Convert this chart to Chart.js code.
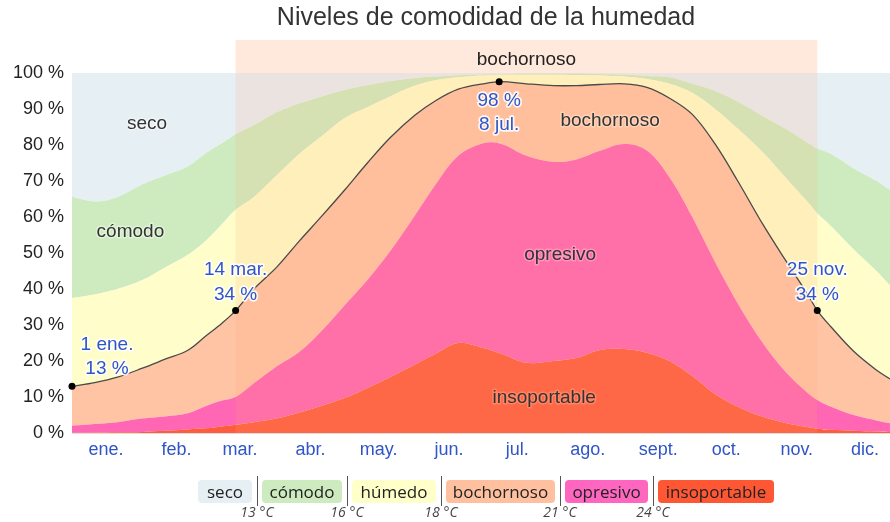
<!DOCTYPE html>
<html><head><meta charset="utf-8">
<script src="https://cdn.jsdelivr.net/npm/chart.js@4/dist/chart.umd.min.js"></script>
<style>
html,body{margin:0;padding:0;background:#fff;}
#wrap{position:relative;width:890px;height:522px;overflow:hidden;}
#c{position:absolute;left:0;top:0;}
#legend{position:absolute;left:198px;top:476px;display:flex;align-items:center;font-family:"Open Sans",sans-serif;}
.chip{height:23px;line-height:23px;border-radius:4px;font-size:17px;color:#222;padding:0;text-align:center;white-space:nowrap;}
.sep{width:1px;height:30px;background:#555;margin:0 4.5px;}
.tmp{position:absolute;top:502px;font-family:"Open Sans",sans-serif;font-size:14px;font-style:italic;color:#444;transform:translateX(-50%);white-space:nowrap;}
</style></head>
<body><div id="wrap"><canvas id="c" width="890" height="522"></canvas><div id="legend"></div></div>
<script>
// ---- data (day of year, 0 = 1 ene.) ----
const days = [0,10,20,31,41,51,59,66,72,80,90,100,110,120,130,140,151,160,170,181,189,200,212,222,232,243,253,263,273,283,293,304,314,324,328,334,344,354,360];
// cumulative upper boundaries (%)
const insoportableTop = [0.1,0.1,0.2,0.3,0.6,1.0,1.3,1.8,2.3,3.0,4.0,5.7,7.6,9.7,12.5,15.5,19,22,25,23.6,22,19.5,20,20.8,23,23.3,22.3,20,15.8,10.8,7.3,4.5,2.8,1.6,1.2,0.9,0.6,0.4,0.3];
const opresivoTop = [2,2.5,3,4,4.6,5.5,7.5,9,10,13.8,18.5,22.5,28.5,35.5,42.5,50.5,60.5,69,77,80.5,80.3,77,75.3,76,78.3,80.3,78.5,71,60,47.5,36,25,17,11,9.2,7.3,5,3.5,2.7];
const bochornosoTop = [13,14,15.5,18,20.5,23,27,30.5,34,40,46,53.3,60.3,67.5,75,82,88.3,92.3,95.5,97,97.6,97,96.5,96.5,96.8,97,96,93,88.5,80.3,70,58,48,38.3,34,29.5,22.7,17.5,15];
const humedoTop = [37.5,38.5,40,42.5,46,49.5,53.5,58,62,65.5,71.5,77.5,82.5,87.5,90.5,93.5,96.5,98,98.8,99.3,99.5,99.5,99.5,99.4,99.3,99,98.3,97,94.5,90,84.5,78,71,64,61,57.5,51,45,41];
const comodoTop = [65.6,64.3,65.5,69,71.5,74,77.8,80.5,83,85.5,89,91.5,93.5,95.3,96.6,97.7,98.6,99,99.4,99.6,99.7,99.8,99.8,99.8,99.7,99.5,99.2,98.8,97,95,92,88,84.5,80.5,79,77.5,73.5,70,67.5];
const secoTop = days.map(() => 100);
// highlighted points
const markDays = [0,72,188,328];
const markValues = [13,34,97.6,34];
const markText = [["1 ene.","13 %"],["14 mar.","34 %"],["98 %","8 jul."],["25 nov.","34 %"]];
// muggy period band
const bandRange = [72,328];
// axes
const monthStarts = [0,31,59,90,120,151,181,212,243,273,304,334];
const monthLabels = ['ene.','feb.','mar.','abr.','may.','jun.','jul.','ago.','sept.','oct.','nov.','dic.'];
const yTicks = [0,10,20,30,40,50,60,70,80,90,100];
const xMax = 360;
// categories & legend
const categories = ['seco','cómodo','húmedo','bochornoso','opresivo','insoportable'];
const thresholds = ['13 °C','16 °C','18 °C','21 °C','24 °C'];
const colors = {seco:'#e6eff3', 'cómodo':'#cdebbf', 'húmedo':'#fffdc9', bochornoso:'#ffc4a4', opresivo:'#ff66b3', insoportable:'#ff5c3d'};
const chipColors = {seco:'#e6eff3', 'cómodo':'#cdebbf', 'húmedo':'#ffffc9', bochornoso:'#ffc09f', opresivo:'#ff66bf', insoportable:'#ff5733'};
const chipWidths = [54,80,84,109,83,116];

const pts = arr => days.map((d,i) => ({x:d, y:arr[i]}));
const areas = [
  ['insoportable', insoportableTop, 'origin'],
  ['opresivo', opresivoTop, 0],
  ['bochornoso', bochornosoTop, 1],
  ['húmedo', humedoTop, 2],
  ['cómodo', comodoTop, 3],
  ['seco', secoTop, 4]
];
const datasets = areas.map(([name, arr, fill]) => ({
  label: name, data: pts(arr), fill: fill, backgroundColor: colors[name],
  borderWidth: 0, pointRadius: 0, tension: 0.35, order: 0, clip: 0
}));
datasets.push({label:'line', data: pts(bochornosoTop), fill:false, borderColor:'#4a4a4a', borderWidth:1.3, pointRadius:0, tension:0.35, order:-1});
datasets.push({label:'marks', data: markDays.map((d,i)=>({x:d,y:markValues[i]})), showLine:false, pointRadius:3.5, pointBackgroundColor:'#000', pointBorderWidth:0, order:-2, clip:false});

const FONT = '"Liberation Sans", Arial, sans-serif';
function halo(ctx, text, x, y, fill, stroke, w){
  ctx.lineJoin='round';
  ctx.strokeStyle=stroke; ctx.lineWidth=w; ctx.strokeText(text,x,y);
  ctx.fillStyle=fill; ctx.fillText(text,x,y);
}
const deco = {
  id:'deco',
  afterDatasetDraw(chart, args){
    if (args.index !== 0) return;
    const {ctx, chartArea:a, scales:{x}} = chart;
    const x0 = x.getPixelForValue(bandRange[0]), x1 = x.getPixelForValue(bandRange[1]);
    ctx.save();
    ctx.fillStyle = '#ffe8dc';
    ctx.fillRect(x0, 40, x1-x0, a.top-40);
    ctx.fillStyle = 'rgba(255,170,120,0.16)';
    ctx.fillRect(x0, a.top, x1-x0, a.bottom-a.top);
    ctx.restore();
  },
  afterDraw(chart){
    const {ctx, chartArea:a, scales:{x,y}} = chart;
    ctx.save();
    ctx.textAlign='center'; ctx.textBaseline='middle';
    // title
    ctx.font = '25px '+FONT; ctx.fillStyle='#333';
    ctx.fillText('Niveles de comodidad de la humedad', 486, 18);
    // band label
    const x0 = x.getPixelForValue(bandRange[0]), x1 = x.getPixelForValue(bandRange[1]);
    ctx.font = '19px '+FONT; ctx.fillStyle='#222';
    ctx.fillText('bochornoso', (x0+x1)/2, 60);
    // area labels
    const lab = [['seco',33,85.8,'rgba(255,255,255,0.4)'],['cómodo',25.7,55.8,'rgba(255,255,255,0.4)'],['bochornoso',236.8,86.6,'rgba(255,230,210,0.5)'],['opresivo',214.8,49.4,'rgba(255,170,200,0.6)'],['insoportable',207.8,9.7,'rgba(255,150,120,0.6)']];
    ctx.font = '19px '+FONT;
    lab.forEach(([t,d,v,s]) => halo(ctx, t, x.getPixelForValue(d), y.getPixelForValue(v), '#333', s, 3));
    // annotations
    const offs = [[35,-41,-17],[0,-41,-16],[0,19,43],[0,-41,-16]];
    ctx.font = '19px '+FONT;
    markDays.forEach((d,i) => {
      const px = x.getPixelForValue(d), py = y.getPixelForValue(markValues[i]);
      const [dx, dy1, dy2] = offs[i];
      halo(ctx, markText[i][0], px+dx, py+dy1, '#2f55c8', 'rgba(255,255,255,0.85)', 3.5);
      halo(ctx, markText[i][1], px+dx, py+dy2, '#2f55c8', 'rgba(255,255,255,0.85)', 3.5);
    });
    ctx.restore();
  }
};

new Chart(document.getElementById('c'), {
  type:'line',
  data:{datasets},
  plugins:[deco],
  options:{
    responsive:false, animation:false, events:[],
    layout:{autoPadding:false, padding:{top:73,right:0,bottom:0,left:0}},
    plugins:{legend:{display:false}, tooltip:{enabled:false}, title:{display:false}},
    scales:{
      x:{type:'linear', min:0, max:xMax, z:1,
        afterBuildTicks: s => { s.ticks = monthStarts.map(v=>({value:v})); },
        afterFit: s => { s.height = 89; s.paddingLeft = 0; s.paddingRight = 0; },
        grid:{color:'rgba(0,0,0,0.13)', drawTicks:false},
        border:{display:false},
        ticks:{autoSkip:false, maxRotation:0, labelOffset:34, padding:6, color:'#2f55c8', font:{family:FONT, size:18}, callback:(v,i)=>monthLabels[i]}
      },
      y:{min:0, max:100, z:1,
        afterBuildTicks: s => { s.ticks = yTicks.map(v=>({value:v})); },
        afterFit: s => { s.width = 72; s.paddingTop = 0; s.paddingBottom = 0; },
        grid:{color:'rgba(0,0,0,0.13)', drawTicks:false},
        border:{display:false},
        ticks:{padding:8, color:'#222', font:{family:FONT, size:18}, callback:v=>v+' %'}
      }
    }
  }
});

// legend (HTML)
const lg = document.getElementById('legend');
const seps = [];
categories.forEach((c,i) => {
  if (i>0){ const s=document.createElement('div'); s.className='sep'; lg.appendChild(s); seps.push(s); }
  const d=document.createElement('div'); d.className='chip'; d.textContent=c; d.style.background=chipColors[c]; d.style.width=chipWidths[i]+'px'; lg.appendChild(d);
});
const wrap = document.getElementById('wrap');
seps.forEach((s,i) => {
  const r = s.getBoundingClientRect();
  const t = document.createElement('div'); t.className='tmp'; t.textContent=thresholds[i];
  t.style.left = (r.left + 0.5) + 'px'; wrap.appendChild(t);
});
</script>
</body></html>
